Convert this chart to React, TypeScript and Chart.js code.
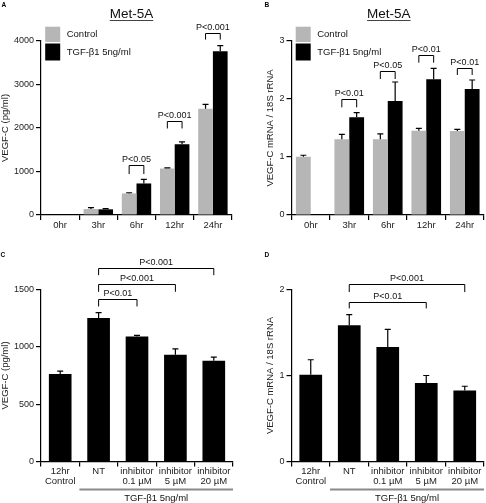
import React, { useEffect, useRef } from 'react';
import { Chart, registerables } from 'chart.js';
Chart.register(...registerables);

const FONT = "'Liberation Sans', Arial, Helvetica, sans-serif";

// ---------- Panel A : VEGF-C protein (pg/ml) ----------
const timeLabels = ['0hr', '3hr', '6hr', '12hr', '24hr'];
const aControl = [0, 137, 496, 1069, 2443];
const aControlErr = [0, 31, 15, 15, 99];
const aTgf = [0, 130, 725, 1626, 3763];
const aTgfErr = [0, 15, 92, 53, 130];
const aYTicks = [0, 1000, 2000, 3000, 4000];
const aBracketCats = [2, 3, 4];
const aBracketTops = [1147, 2157, 4184];
const aBracketLegs = [941, 1989, 4032];
const aBracketTexts = ['P<0.05', 'P<0.001', 'P<0.001'];

// ---------- Panel B : VEGF-C mRNA / 18S rRNA ----------
const bControl = [1.006, 1.305, 1.305, 1.454, 1.448];
const bControlErr = [0.024, 0.085, 0.092, 0.04, 0.029];
const bTgf = [null, 1.684, 1.966, 2.339, 2.172];
const bTgfErr = [0, 0.08, 0.327, 0.19, 0.156];
const bYTicks = [0, 1, 2, 3];
const bBracketCats = [1, 2, 3, 4];
const bBracketTops = [1.994, 2.483, 2.759, 2.54];
const bBracketLegs = [1.856, 2.345, 2.626, 2.414];
const bBracketTexts = ['P<0.01', 'P<0.05', 'P<0.01', 'P<0.01'];

// ---------- Panel C : inhibitor, protein ----------
const inhLabels = [['12hr', 'Control'], 'NT', ['inhibitor', '0.1 µM'], ['inhibitor', '5 µM'], ['inhibitor', '20 µM']];
const cValues = [764, 1252, 1091, 931, 878];
const cErr = [24, 47, 9, 52, 32];
const cYTicks = [0, 500, 1000, 1500];
const cBracketFrom = [1, 1, 1];
const cBracketTo = [2, 3, 4];
const cBracketTops = [1420, 1545, 1690];
const cBracketLegs = [1352, 1480, 1625];
const cBracketTexts = ['P<0.01', 'P<0.001', 'P<0.001'];

// ---------- Panel D : inhibitor, mRNA ----------
const dValues = [1.008, 1.584, 1.331, 0.914, 0.825];
const dErr = [0.175, 0.124, 0.206, 0.086, 0.05];
const dYTicks = [0, 1, 2];
const dBracketFrom = [1, 1];
const dBracketTo = [3, 4];
const dBracketTops = [1.858, 2.06];
const dBracketLegs = [1.78, 1.97];
const dBracketTexts = ['P<0.01', 'P<0.001'];

const legendLabels = ['Control', 'TGF-β1 5ng/ml'];
const treatmentLabel = 'TGF-β1 5ng/ml';
const titleText = 'Met-5A';
const proteinTitle = 'VEGF-C (pg/ml)';
const mrnaTitle = 'VEGF-C mRNA / 18S rRNA';

const GRAY = '#b6b6b6';
const BLACK = '#000000';

type Series = { data: (number | null)[]; errors: number[]; color: string };
type Bracket = { from: number; to: number; fromDs: number; toDs: number; top: number; leg: number; text: string };
type Panel = {
  left: number; top: number; width: number; height: number;
  padding: { left: number; right: number; top: number; bottom: number };
  yWidth: number; xHeight: number;
  letter: string; letterX: number; letterY: number;
  labels: any[]; series: Series[]; yMax: number; yTicks: number[]; yTitle: string;
  catPct: number;
  title?: { text: string; x: number };
  legend?: boolean;
  brackets: Bracket[];
  group?: boolean;
};

function pairBrackets(cats: number[], tops: number[], legs: number[], texts: string[]): Bracket[] {
  return cats.map((c, i) => ({ from: c, to: c, fromDs: 0, toDs: 1, top: tops[i], leg: legs[i], text: texts[i] }));
}
function spanBrackets(from: number[], to: number[], tops: number[], legs: number[], texts: string[]): Bracket[] {
  return from.map((f, i) => ({ from: f, to: to[i], fromDs: 0, toDs: 0, top: tops[i], leg: legs[i], text: texts[i] }));
}

const panels: Panel[] = [
  {
    left: 0, top: 0, width: 243, height: 250,
    padding: { left: 0, right: 11, top: 41, bottom: 15 }, yWidth: 41, xHeight: 20,
    letter: 'A', letterX: 1.5, letterY: 7,
    labels: timeLabels,
    series: [
      { data: aControl, errors: aControlErr, color: GRAY },
      { data: aTgf, errors: aTgfErr, color: BLACK },
    ],
    yMax: 4000, yTicks: aYTicks, yTitle: proteinTitle, catPct: 0.77,
    title: { text: titleText, x: 131.5 }, legend: true,
    brackets: pairBrackets(aBracketCats, aBracketTops, aBracketLegs, aBracketTexts),
  },
  {
    left: 243, top: 0, width: 243, height: 250,
    padding: { left: 22, right: 2, top: 41, bottom: 15 }, yWidth: 26.5, xHeight: 20,
    letter: 'B', letterX: 21.5, letterY: 7,
    labels: timeLabels,
    series: [
      { data: bControl, errors: bControlErr, color: GRAY },
      { data: bTgf, errors: bTgfErr, color: BLACK },
    ],
    yMax: 3, yTicks: bYTicks, yTitle: mrnaTitle, catPct: 0.77,
    title: { text: titleText, x: 145.8 }, legend: true,
    brackets: pairBrackets(bBracketCats, bBracketTops, bBracketLegs, bBracketTexts),
  },
  {
    left: 0, top: 250, width: 243, height: 253,
    padding: { left: 0, right: 10, top: 39.5, bottom: 11.5 }, yWidth: 41, xHeight: 30,
    letter: 'C', letterX: 0.5, letterY: 6.5,
    labels: inhLabels,
    series: [{ data: cValues, errors: cErr, color: BLACK }],
    yMax: 1500, yTicks: cYTicks, yTitle: proteinTitle, catPct: 0.59,
    brackets: spanBrackets(cBracketFrom, cBracketTo, cBracketTops, cBracketLegs, cBracketTexts),
    group: true,
  },
  {
    left: 243, top: 250, width: 243, height: 253,
    padding: { left: 22, right: 2, top: 39.5, bottom: 11.5 }, yWidth: 26.5, xHeight: 30,
    letter: 'D', letterX: 21.5, letterY: 6.5,
    labels: inhLabels,
    series: [{ data: dValues, errors: dErr, color: BLACK }],
    yMax: 2, yTicks: dYTicks, yTitle: mrnaTitle, catPct: 0.59,
    brackets: spanBrackets(dBracketFrom, dBracketTo, dBracketTops, dBracketLegs, dBracketTexts),
    group: true,
  },
];

function overlay(panel: Panel) {
  return {
    id: 'overlay' + panel.letter,
    afterDatasetsDraw(chart: any) {
      const ctx = chart.ctx;
      const y = chart.scales.y;
      ctx.save();
      ctx.strokeStyle = '#000';
      ctx.lineWidth = 1.2;
      panel.series.forEach((s, d) => {
        const meta = chart.getDatasetMeta(d);
        meta.data.forEach((el: any, i: number) => {
          const v = s.data[i];
          const e = s.errors[i];
          if (v === null || v === undefined || !e) return;
          const y0 = y.getPixelForValue(v);
          const y1 = y.getPixelForValue(v + e);
          ctx.beginPath();
          ctx.moveTo(el.x, y0);
          ctx.lineTo(el.x, y1);
          ctx.moveTo(el.x - 3, y1);
          ctx.lineTo(el.x + 3, y1);
          ctx.stroke();
        });
      });
      ctx.restore();
    },
    afterDraw(chart: any) {
      const ctx = chart.ctx;
      const y = chart.scales.y;
      const x = chart.scales.x;
      const ca = chart.chartArea;
      ctx.save();
      // brackets
      ctx.strokeStyle = '#000';
      ctx.lineWidth = 1;
      ctx.fillStyle = '#111';
      ctx.font = `9px ${FONT}`;
      ctx.textAlign = 'center';
      ctx.textBaseline = 'alphabetic';
      panel.brackets.forEach((b) => {
        const x1 = chart.getDatasetMeta(b.fromDs).data[b.from].x;
        const x2 = chart.getDatasetMeta(b.toDs).data[b.to].x;
        const yt = Math.round(y.getPixelForValue(b.top)) + 0.5;
        const yl = y.getPixelForValue(b.leg);
        ctx.beginPath();
        ctx.moveTo(x1, yl);
        ctx.lineTo(x1, yt);
        ctx.lineTo(x2, yt);
        ctx.lineTo(x2, yl);
        ctx.stroke();
        ctx.fillText(b.text, (x1 + x2) / 2, yt - 3.5);
      });
      // panel letter
      ctx.textAlign = 'left';
      ctx.font = `bold 6.5px ${FONT}`;
      ctx.fillStyle = '#000';
      ctx.fillText(panel.letter, panel.letterX, panel.letterY);
      // title
      if (panel.title) {
        ctx.font = `13.5px ${FONT}`;
        ctx.textAlign = 'center';
        ctx.fillStyle = '#111';
        ctx.fillText(panel.title.text, panel.title.x, 18.3);
        const w = ctx.measureText(panel.title.text).width;
        ctx.strokeStyle = '#444';
        ctx.lineWidth = 1;
        ctx.beginPath();
        ctx.moveTo(panel.title.x - w / 2, 20.5);
        ctx.lineTo(panel.title.x + w / 2, 20.5);
        ctx.stroke();
      }
      // legend
      if (panel.legend) {
        const lx = ca.left + 4.2;
        ctx.fillStyle = panel.series[0].color;
        ctx.fillRect(lx, 26.7, 15, 15.3);
        ctx.fillStyle = panel.series[1].color;
        ctx.fillRect(lx, 43.5, 15, 17);
        ctx.fillStyle = '#111';
        ctx.font = `9.5px ${FONT}`;
        ctx.textAlign = 'left';
        ctx.textBaseline = 'middle';
        ctx.fillText(legendLabels[0], lx + 21.5, 34.5);
        ctx.fillText(legendLabels[1], lx + 21.5, 52.3);
      }
      // treatment group line
      if (panel.group) {
        const gx1 = x.getPixelForValue(0.5);
        const gx2 = x.getPixelForValue(panel.labels.length - 0.5);
        ctx.fillStyle = '#8a8a8a';
        ctx.fillRect(gx1, 238.5, gx2 - gx1, 2);
        ctx.fillStyle = '#111';
        ctx.font = `9.5px ${FONT}`;
        ctx.textAlign = 'center';
        ctx.textBaseline = 'middle';
        ctx.fillText(treatmentLabel, (gx1 + gx2) / 2, 248.5);
      }
      ctx.restore();
    },
  };
}

function PanelChart({ panel }: { panel: Panel }) {
  const ref = useRef<HTMLCanvasElement>(null);
  useEffect(() => {
    const chart = new Chart(ref.current as HTMLCanvasElement, {
      type: 'bar',
      data: {
        labels: panel.labels,
        datasets: panel.series.map((s) => ({
          data: s.data as any,
          backgroundColor: s.color,
          borderWidth: 0,
          categoryPercentage: panel.catPct,
          barPercentage: 1,
        })),
      },
      options: {
        responsive: false,
        animation: false,
        devicePixelRatio: 1,
        layout: { padding: panel.padding },
        plugins: { legend: { display: false }, tooltip: { enabled: false }, title: { display: false } },
        scales: {
          x: {
            grid: { display: true, drawOnChartArea: false, drawTicks: true, tickLength: 5, color: '#000', lineWidth: 1.2, offset: true },
            border: { display: true, color: '#000', width: 1.2 },
            ticks: {
              autoSkip: false, maxRotation: 0, minRotation: 0, padding: 0, color: '#222',
              font: { size: 9.5, family: FONT, lineHeight: 1.05 },
            },
            afterFit: (s: any) => { s.height = panel.xHeight; },
          },
          y: {
            min: 0,
            max: panel.yMax,
            afterBuildTicks: (s: any) => { s.ticks = panel.yTicks.map((v) => ({ value: v })); },
            grid: { drawOnChartArea: false, drawTicks: true, tickLength: 5, color: '#000', lineWidth: 1.2 },
            border: { display: true, color: '#000', width: 1.2 },
            ticks: { padding: 2, color: '#222', font: { size: 9, family: FONT }, callback: (v: any) => String(v) },
            title: { display: true, text: panel.yTitle, color: '#222', font: { size: 9.5, family: FONT }, padding: 0 },
            afterFit: (s: any) => { s.width = panel.yWidth; },
          },
        },
      },
      plugins: [overlay(panel)],
    } as any);
    return () => chart.destroy();
  }, []);
  return (
    <canvas
      ref={ref}
      width={panel.width}
      height={panel.height}
      style={{ position: 'absolute', left: panel.left, top: panel.top, width: panel.width, height: panel.height }}
    />
  );
}

export default function App() {
  return (
    <div style={{ position: 'absolute', left: 0, top: 0, width: 486, height: 503, background: '#fff', overflow: 'hidden' }}>
      {panels.map((p) => (
        <PanelChart key={p.letter} panel={p} />
      ))}
    </div>
  );
}
